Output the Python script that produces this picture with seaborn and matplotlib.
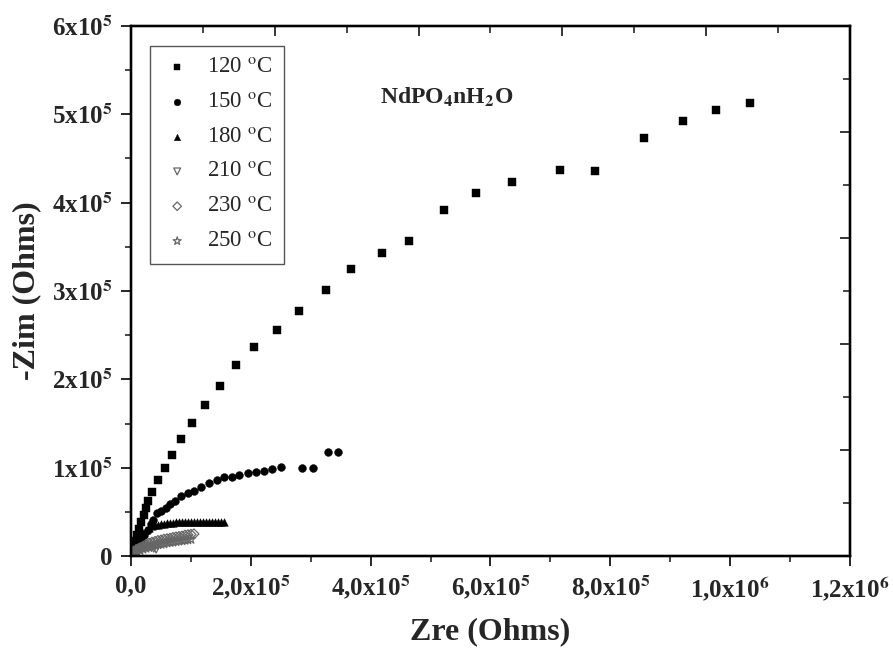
import numpy as np
import pandas as pd
import matplotlib
matplotlib.use("Agg")
import matplotlib.pyplot as plt
import seaborn as sns
from matplotlib.ticker import MultipleLocator, FixedLocator

# values, in units of 1e5 Ohm
zre_120 = [0.015, 0.035, 0.065, 0.10, 0.13, 0.17, 0.21, 0.25, 0.29, 0.35, 0.45, 0.56, 0.68, 0.83,
           1.01, 1.24, 1.48, 1.75, 2.06, 2.43, 2.80, 3.26, 3.68, 4.19, 4.64, 5.22, 5.75, 6.36,
           7.16, 7.74, 8.56, 9.22, 9.77, 10.33]
zim_120 = [0.04, 0.09, 0.165, 0.24, 0.31, 0.38, 0.46, 0.54, 0.62, 0.73, 0.86, 1.00, 1.14, 1.33,
           1.51, 1.71, 1.93, 2.16, 2.37, 2.56, 2.77, 3.01, 3.25, 3.43, 3.57, 3.92, 4.11, 4.23,
           4.375, 4.36, 4.73, 4.92, 5.05, 5.13]

zre_150 = [0.03, 0.06, 0.11, 0.16, 0.22, 0.28, 0.34, 0.36, 0.43, 0.50, 0.58, 0.655, 0.73, 0.83,
           0.945, 1.05, 1.17, 1.30, 1.43, 1.56, 1.69, 1.81, 1.95, 2.09, 2.22, 2.35, 2.51, 2.86,
           3.03, 3.28, 3.45]
zim_150 = [0.03, 0.07, 0.12, 0.18, 0.24, 0.30, 0.36, 0.41, 0.49, 0.51, 0.545, 0.59, 0.625, 0.68,
           0.71, 0.735, 0.78, 0.83, 0.86, 0.89, 0.89, 0.92, 0.94, 0.95, 0.965, 0.98, 1.01, 1.00,
           1.00, 1.18, 1.18]

zre_180 = [0.01, 0.03, 0.05, 0.08, 0.10, 0.13, 0.16, 0.20, 0.25, 0.30, 0.35, 0.40, 0.45, 0.50,
           0.55, 0.60, 0.65, 0.70, 0.75, 0.80, 0.85, 0.90, 0.95, 1.00, 1.05, 1.10, 1.15, 1.20,
           1.25, 1.30, 1.35, 1.40, 1.45, 1.50, 1.55]
zim_180 = [0.01, 0.04, 0.07, 0.10, 0.14, 0.18, 0.22, 0.26, 0.30, 0.32, 0.34, 0.35, 0.355, 0.36,
           0.365, 0.37, 0.37, 0.375, 0.38, 0.38, 0.38, 0.385, 0.385, 0.385, 0.385, 0.39, 0.385,
           0.39, 0.385, 0.39, 0.385, 0.385, 0.38, 0.385, 0.38]

zre_210 = [0.005, 0.02, 0.04, 0.07, 0.10, 0.14, 0.18, 0.22, 0.26, 0.30, 0.34, 0.38, 0.42]
zim_210 = [0.005, 0.02, 0.035, 0.05, 0.065, 0.08, 0.09, 0.10, 0.105, 0.11, 0.10, 0.09, 0.08]

zre_230 = [0.01, 0.03, 0.06, 0.10, 0.15, 0.20, 0.25, 0.30, 0.35, 0.40, 0.45, 0.50, 0.55, 0.60,
           0.65, 0.70, 0.75, 0.80, 0.85, 0.90, 0.95, 1.00, 1.05]
zim_230 = [0.01, 0.03, 0.05, 0.07, 0.09, 0.11, 0.13, 0.145, 0.155, 0.165, 0.175, 0.18, 0.19,
           0.195, 0.20, 0.21, 0.215, 0.22, 0.225, 0.235, 0.24, 0.245, 0.25]

zre_250 = [0.01, 0.03, 0.06, 0.10, 0.15, 0.20, 0.25, 0.30, 0.35, 0.40, 0.45, 0.50, 0.55, 0.60,
           0.65, 0.70, 0.75, 0.80, 0.85, 0.90, 0.95, 1.00]
zim_250 = [0.005, 0.02, 0.035, 0.05, 0.065, 0.08, 0.09, 0.10, 0.11, 0.12, 0.13, 0.135, 0.14,
           0.15, 0.155, 0.16, 0.165, 0.17, 0.175, 0.18, 0.185, 0.19]

labels = ["120 $^{\\rm o}$C", "150 $^{\\rm o}$C", "180 $^{\\rm o}$C",
          "210 $^{\\rm o}$C", "230 $^{\\rm o}$C", "250 $^{\\rm o}$C"]
xticklabels = ["0,0", "2,0x10$^{\\mathbf{5}}$", "4,0x10$^{\\mathbf{5}}$", "6,0x10$^{\\mathbf{5}}$",
               "8,0x10$^{\\mathbf{5}}$", "1,0x10$^{\\mathbf{6}}$", "1,2x10$^{\\mathbf{6}}$"]
yticklabels = ["0", "1x10$^{\\mathbf{5}}$", "2x10$^{\\mathbf{5}}$", "3x10$^{\\mathbf{5}}$",
               "4x10$^{\\mathbf{5}}$", "5x10$^{\\mathbf{5}}$", "6x10$^{\\mathbf{5}}$"]

series = [(zre_120, zim_120), (zre_150, zim_150), (zre_180, zim_180),
          (zre_210, zim_210), (zre_230, zim_230), (zre_250, zim_250)]
markers = ["s", "o", "^", "v", "D", "*"]
sizes = [28, 32, 30, 34, 26, 50]
filled = [True, True, True, False, False, False]

sns.set_style("ticks")
plt.rcParams["font.family"] = ["Liberation Serif", "DejaVu Serif"]
plt.rcParams["mathtext.fontset"] = "stix"

fig = plt.figure(figsize=(8.93, 6.56), dpi=100)
ax = fig.add_axes([0.1467, 0.1524, 0.9518 - 0.1467, 0.9604 - 0.1524])

for (xs, ys), lab, m, s, f in zip(series, labels, markers, sizes, filled):
    df = pd.DataFrame({"Zre": np.array(xs) * 1e5, "Zim": np.array(ys) * 1e5})
    if f:
        sns.scatterplot(data=df, x="Zre", y="Zim", marker=m, s=s, color="black",
                        edgecolor="black", linewidth=0.3, ax=ax, label=lab)
    else:
        sns.scatterplot(data=df, x="Zre", y="Zim", marker=m, s=s, facecolor="none",
                        edgecolor="#666666", linewidth=0.9, ax=ax, label=lab)

ax.set_xlim(0, 1.2e6)
ax.set_ylim(0, 6e5)
ax.set_xticks(np.arange(0, 1.21e6, 2e5))
ax.set_xticklabels(xticklabels)
ax.set_yticks(np.arange(0, 6.1e5, 1e5))
ax.set_yticklabels(yticklabels)
ax.xaxis.set_minor_locator(MultipleLocator(1e5))
ax.yaxis.set_minor_locator(MultipleLocator(0.5e5))
ax.tick_params(which="major", direction="out", length=7, width=1.4, labelsize=18, pad=6)
ax.tick_params(which="minor", direction="out", length=4, width=1.2)
for lbl in ax.get_xticklabels() + ax.get_yticklabels():
    lbl.set_fontweight("bold")

# mirrored axes: Origin style ticks inside, own spacing
top = ax.twiny()
top.set_xlim(ax.get_xlim())
top.xaxis.set_major_locator(FixedLocator(np.arange(2.4e5, 1.2e6, 2.4e5)))
top.xaxis.set_minor_locator(FixedLocator(np.arange(1.2e5, 1.2e6, 2.4e5)))
top.tick_params(which="major", direction="in", length=7, width=1.3, labeltop=False)
top.tick_params(which="minor", direction="in", length=5, width=1.2)
right = ax.twinx()
right.set_ylim(ax.get_ylim())
right.yaxis.set_major_locator(FixedLocator(np.arange(1.2e5, 6e5, 1.2e5)))
right.yaxis.set_minor_locator(FixedLocator(np.arange(0.6e5, 6e5, 1.2e5)))
right.tick_params(which="major", direction="in", length=7, width=1.3, labelright=False)
right.tick_params(which="minor", direction="in", length=5, width=1.2)
for a in (ax, top, right):
    for sp in a.spines.values():
        sp.set_linewidth(1.6)
        sp.set_color("black")

ax.set_xlabel("Zre (Ohms)", fontsize=23, fontweight="bold", labelpad=10)
ax.set_ylabel("-Zim (Ohms)", fontsize=23, fontweight="bold", labelpad=8)

ax.text(4.15e5, 5.19e5, "NdPO$_{\\mathbf{4}}$nH$_{\\mathbf{2}}$O", fontsize=17,
        fontweight="bold", va="center", ha="left")

leg = ax.legend(loc="upper left", bbox_to_anchor=(0.026, 0.963), fontsize=16.5,
                frameon=True, fancybox=False, edgecolor="#555555", framealpha=1,
                labelspacing=0.6, handlelength=1.4, handletextpad=0.6,
                borderpad=0.5, borderaxespad=0, markerscale=0.85)
leg.get_frame().set_linewidth(1.0)

fig.savefig("out.png", dpi=100)
